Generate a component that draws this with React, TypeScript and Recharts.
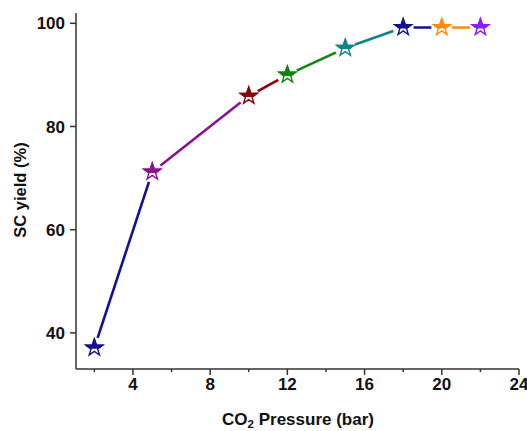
import React from "react";
import { ComposedChart, Line, Scatter, XAxis, YAxis } from "recharts";

const pressures = [2, 5, 10, 12, 15, 18, 20, 22];
const yields = [37.1, 71.2, 85.9, 90.0, 95.2, 99.2, 99.2, 99.2];
const pointColors = [
  "#121290",
  "#8c128f",
  "#880808",
  "#128412",
  "#0f8585",
  "#121290",
  "#ff8a10",
  "#8a1cff",
];
const xTicks = [2, 4, 6, 8, 10, 12, 14, 16, 18, 20, 22, 24];
const xMajor = [4, 8, 12, 16, 20, 24];
const yTicks = [40, 60, 80, 100];

const FONT = "'Liberation Sans', Arial, sans-serif";
const AXIS = "#333";

const points = pressures.map((x, i) => ({ x, y: yields[i], color: pointColors[i], idx: i }));
// each segment takes the colour of the point it starts from
const segments = points.slice(0, -1).map((p, i) => ({
  color: p.color,
  data: [
    { x: p.x, y: p.y },
    { x: points[i + 1].x, y: points[i + 1].y },
  ],
}));

const starPoints = (cx: number, cy: number, R: number, r: number) => {
  const pts: string[] = [];
  for (let i = 0; i < 10; i++) {
    const a = ((-90 + i * 36) * Math.PI) / 180;
    const rad = i % 2 === 0 ? R : r;
    pts.push(`${cx + rad * Math.cos(a)},${cy + rad * Math.sin(a)}`);
  }
  return pts.join(" ");
};

const HalfStar = (props: any) => {
  const { cx, cy, payload } = props;
  if (cx == null || cy == null) return null;
  const color = payload.color;
  const id = `star-top-${payload.idx}`;
  const pts = starPoints(cx, cy, 8.8, 3.5);
  return (
    <g>
      <circle cx={cx} cy={cy} r={10.5} fill="#fff" />
      <clipPath id={id}>
        <rect x={cx - 12} y={cy - 12} width={24} height={13} />
      </clipPath>
      <polygon points={pts} fill="#fff" stroke={color} strokeWidth={1.4} strokeLinejoin="miter" />
      <polygon points={pts} fill={color} stroke={color} strokeWidth={1.4} clipPath={`url(#${id})`} />
    </g>
  );
};

const XTick = (props: any) => {
  const { x, y, payload } = props;
  const major = xMajor.includes(payload.value);
  return (
    <g>
      <line x1={x} x2={x} y1={y} y2={y + (major ? 6 : 3)} stroke={AXIS} strokeWidth={1.5} />
      {major && (
        <text
          x={x}
          y={y + 20.5}
          textAnchor="middle"
          fill="#111"
          fontSize={17}
          fontWeight="bold"
          fontFamily={FONT}
        >
          {payload.value}
        </text>
      )}
    </g>
  );
};

const App: React.FC = () => {
  return (
    <div style={{ position: "absolute", left: 0, top: 0, width: 527, height: 431, background: "#fff" }}>
      <ComposedChart width={527} height={431} margin={{ top: 13, right: 8, bottom: 0, left: 0 }}>
        <XAxis
          type="number"
          dataKey="x"
          domain={[1.05, 24]}
          allowDataOverflow
          ticks={xTicks}
          interval={0}
          tick={<XTick />}
          tickLine={false}
          tickSize={0}
          tickMargin={0}
          height={62}
          axisLine={{ stroke: AXIS, strokeWidth: 1.5 }}
        />
        <YAxis
          type="number"
          dataKey="y"
          domain={[33, 102]}
          allowDataOverflow
          ticks={yTicks}
          interval={0}
          width={76}
          tickSize={6}
          tickMargin={5}
          tickLine={{ stroke: AXIS, strokeWidth: 1.5 }}
          axisLine={{ stroke: AXIS, strokeWidth: 1.5 }}
          tick={{ fill: "#111", fontSize: 17, fontWeight: "bold", fontFamily: FONT }}
        />
        {segments.map((s, i) => (
          <Line
            key={`seg-${i}`}
            data={s.data}
            dataKey="y"
            type="linear"
            stroke={s.color}
            strokeWidth={2.6}
            dot={false}
            activeDot={false}
            isAnimationActive={false}
          />
        ))}
        <Scatter data={points} dataKey="y" shape={<HalfStar />} isAnimationActive={false} />
      </ComposedChart>

      <div
        style={{
          position: "absolute",
          left: 20,
          top: 190,
          transform: "translate(-50%, -50%) rotate(-90deg)",
          whiteSpace: "nowrap",
          fontFamily: FONT,
          fontWeight: "bold",
          fontSize: 16.5,
          color: "#111",
        }}
      >
        SC yield (%)
      </div>
      <div
        style={{
          position: "absolute",
          left: 298,
          top: 420,
          transform: "translate(-50%, -50%)",
          whiteSpace: "nowrap",
          fontFamily: FONT,
          fontWeight: "bold",
          fontSize: 17,
          color: "#111",
        }}
      >
        CO<sub style={{ fontSize: 11.5, verticalAlign: "-3px", lineHeight: 0 }}>2</sub> Pressure (bar)
      </div>
    </div>
  );
};

export default App;
